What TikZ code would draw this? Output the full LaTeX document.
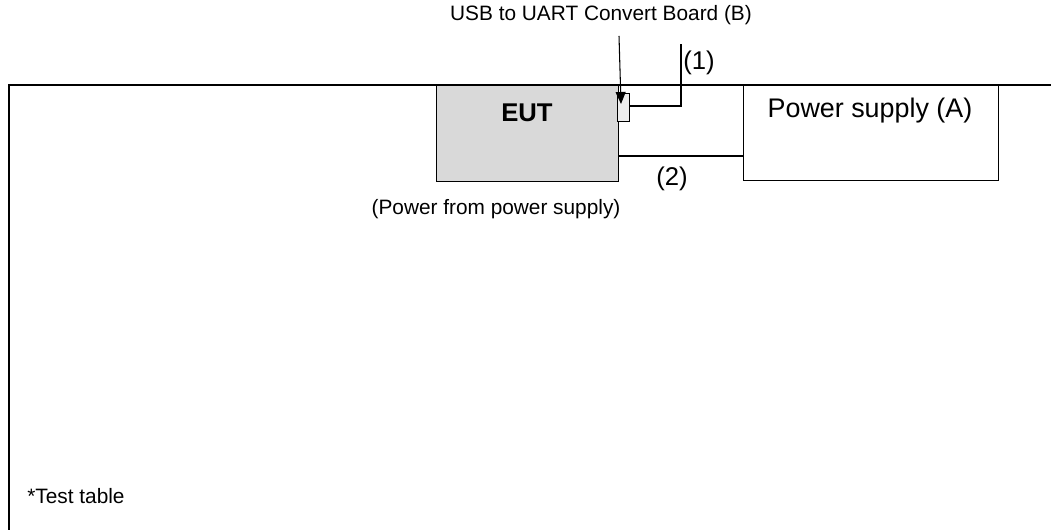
\documentclass[tikz,border=0pt]{standalone}
\usepackage{fontspec}
\setmainfont{Liberation Sans}
\usetikzlibrary{arrows.meta}

\tikzset{
  box/.style={draw,line width=0.7pt,inner sep=0pt,anchor=north west},
  small/.style={font=\fontsize{11.85}{14}\selectfont,inner sep=0pt},
  big/.style={font=\fontsize{14.6}{17}\selectfont,inner sep=0pt},
  cable/.style={line width=0.6pt}
}

\begin{document}
\begin{tikzpicture}
\useasboundingbox (0,0) rectangle (21.02,10.6);

\draw[line width=0.7pt] (0.18,0) -- (0.18,8.9) -- (21.02,8.9); %table

\node[box,fill=gray!30,minimum width=3.64cm,minimum height=1.92cm] (eut) at (8.72,8.9) {}; %EUT
\node[box,minimum width=5.1cm,minimum height=1.9cm] (psu) at (14.86,8.9) {}; %power supply
\node[box,fill=gray!14,line width=0.7pt,minimum width=0.24cm,minimum height=0.56cm] (board) at (12.34,8.74) {}; %board

\node[big,font=\fontsize{14.6}{17}\selectfont\bfseries] (eutlabel) at (10.54,8.34) {EUT};
\node[big,font=\fontsize{15.3}{18}\selectfont] (psulabel) at (17.4,8.38) {Power supply (A)};
\node[small] (usblabel) at (12.02,10.3) {USB to UART Convert Board (B)};
\node[small] (powernote) at (9.92,6.42) {(Power from power supply)};
\node[small,anchor=west] (tablelabel) at (0.54,0.68) {*Test table};
\node[big] (one) at (13.98,9.34) {(1)};
\node[big] (two) at (13.44,7.02) {(2)};

% arrow to the board
\coordinate (usbarrow) at (12.38,9.88);
\coordinate (boardin) at (12.42,8.52);
\draw[cable,-{Triangle[width=0.2cm,length=0.24cm]}] (usbarrow) -- (boardin);

% cable (1)
\coordinate (c1top) at (13.62,9.72);
\draw[cable] (board.east |- 0,8.48) -| (c1top);

% cable (2)
\draw[cable] (eut.east |- 0,7.48) -- (psu.west |- 0,7.48);
\end{tikzpicture}
\end{document}
